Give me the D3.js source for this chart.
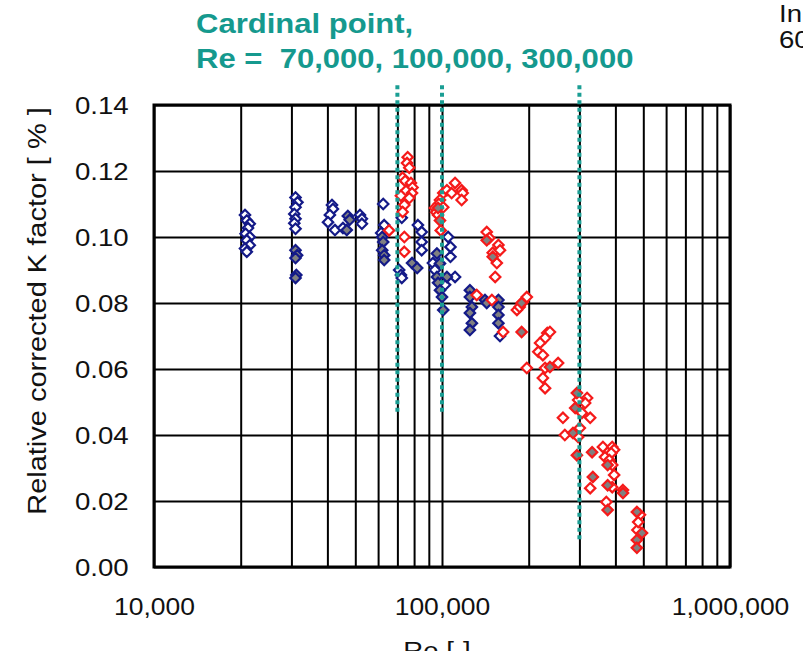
<!DOCTYPE html>
<html>
<head>
<meta charset="utf-8">
<script src="https://cdn.jsdelivr.net/npm/d3@7"></script>
<style>
  html, body { margin: 0; padding: 0; background: #fff; }
  svg { display: block; font-family: "Liberation Sans", Arial, sans-serif; }
</style>
</head>
<body>
<svg id="chart" width="803" height="651"></svg>
<script>
// ---- data: [Re, relative corrected K factor (%)] ----
const blueOpen = [
  [20700,0.1067],[21000,0.1050],[21500,0.1040],[21200,0.1027],[20800,0.1010],
  [21500,0.1000],[21000,0.0990],[21500,0.0975],[20700,0.0965],[21000,0.0955],
  [31000,0.1120],[31500,0.1105],[31000,0.1090],[30700,0.1070],[31000,0.1055],
  [30700,0.1042],[31000,0.1025],
  [41500,0.1097],[41800,0.1085],[40800,0.1067],[40200,0.1045],[42500,0.1021],[45300,0.1027],
  [51900,0.1067],[52700,0.1055],[52700,0.1040],
  [62500,0.1100],[63000,0.1036],[61500,0.1012],
  [72500,0.1058],[71000,0.0900],[72000,0.0885],[72500,0.0876],
  [82500,0.1036],[85000,0.1015],[85000,0.0985],[85000,0.0960],
  [105000,0.1000],[107000,0.0970],[107000,0.0940],[93000,0.0921],[94500,0.0900],
  [111000,0.0879],[102500,0.0855],[159000,0.0700]
];
const blueFilled = [
  [31000,0.0960],[31400,0.0945],[31000,0.0936],[31200,0.0885],[31000,0.0876],
  [47100,0.1064],[47800,0.1052],[46700,0.1021],
  [62000,0.1000],[62500,0.0985],[62000,0.0960],[63000,0.0945],[63000,0.0930],
  [78700,0.0921],[82000,0.0906],
  [96000,0.0879],[96900,0.0861],[98400,0.0839],[100000,0.0818],[101000,0.0779],
  [104000,0.0879],[96000,0.0950],[98400,0.0920],
  [125000,0.0839],[125000,0.0818],[127000,0.0788],[125000,0.0770],[127000,0.0739],[125000,0.0718],
  [141000,0.0809],[143000,0.0800],
  [157000,0.0809],[157000,0.0788],[157000,0.0764],[157000,0.0739]
];
const redOpen = [
  [76000,0.1242],[75600,0.1224],[77000,0.1210],[73000,0.1180],[74500,0.1170],[78000,0.1164],
  [79000,0.1150],[75000,0.1140],[78700,0.1133],[72000,0.1125],[77000,0.1118],[74000,0.1097],
  [73000,0.1076],[65500,0.1020],[74000,0.1000],[74000,0.0955],
  [101000,0.1133],[104000,0.1142],[98400,0.1112],[97500,0.1100],[101000,0.1090],[94500,0.1088],
  [95500,0.1075],[99000,0.1020],[111000,0.1164],
  [117000,0.1142],[118000,0.1133],[108000,0.1133],[117000,0.1112],[96900,0.1067],
  [143000,0.1015],[146000,0.0997],[150000,0.0952],[155000,0.0921],[153000,0.0879],
  [157000,0.0976],[159000,0.0960],
  [132000,0.0824],[149000,0.0809],[163000,0.0712],
  [182000,0.0779],[186000,0.0788],[191000,0.0803],[197000,0.0818],
  [232000,0.0709],[237000,0.0712],[228000,0.0694],[219000,0.0679],[216000,0.0652],
  [224000,0.0642],[197000,0.0603],[228000,0.0603],[253000,0.0618],[224000,0.0573],[228000,0.0542],
  [263000,0.0452],[267000,0.0400],[297000,0.0394],[301000,0.0421],[319000,0.0512],
  [314000,0.0497],[306000,0.0467],[327000,0.0452],[297000,0.0506],[327000,0.0239],
  [362000,0.0364],[390000,0.0364],[396000,0.0355],[387000,0.0345],[368000,0.0333],
  [381000,0.0324],[390000,0.0309],[396000,0.0279],[390000,0.0242],[372000,0.0197],[425000,0.0233],
  [487000,0.0158],[477000,0.0112],[480000,0.0136]
];
const redFilled = [
  [96900,0.1088],[98400,0.1050],
  [143000,0.0990],[150000,0.0940],
  [189000,0.0800],[189000,0.0712],
  [237000,0.0606],
  [294000,0.0527],[290000,0.0482],[285000,0.0406],[294000,0.0339],
  [332000,0.0348],[334000,0.0273],
  [376000,0.0309],[376000,0.0248],[376000,0.0173],[425000,0.0224],
  [475000,0.0167],[495000,0.0103],[475000,0.0082],[475000,0.0058]
];

// cardinal Reynolds numbers and the K range each marker line spans
const cardinalRe = [70000, 100000, 300000];
const cardinalLow = [0.047, 0.047, 0.008];
const cardinalTop = 0.146;

const yTicks = [0, 0.02, 0.04, 0.06, 0.08, 0.10, 0.12, 0.14];
const xLabelTicks = [1e4, 1e5, 1e6];

// ---- layout ----
const svg = d3.select("#chart");
const plotL = 154, plotR = 730, plotT = 105, plotB = 567;
const teal = "#15998e";
const blue = "#141a88", red = "#f51a1a", grayFill = "#808080";
const stretch = "scale(1.15,1)";

svg.append("rect").attr("width", 803).attr("height", 651).attr("fill", "#fff");

const x = d3.scaleLog().domain([1e4, 1e6]).range([plotL, plotR]);
const y = d3.scaleLinear().domain([0, 0.14]).range([plotB, plotT]);

// grid lines
const gx = svg.append("g")
  .attr("transform", `translate(0,${plotB})`)
  .call(d3.axisBottom(x).tickValues(x.ticks()).tickSize(-(plotB - plotT)).tickFormat(""));
gx.select(".domain").remove();
gx.selectAll("line").attr("stroke", "#000").attr("stroke-width", 2);

const gy = svg.append("g")
  .attr("transform", `translate(${plotL},0)`)
  .call(d3.axisLeft(y).tickValues(yTicks).tickSize(-(plotR - plotL)).tickFormat(""));
gy.select(".domain").remove();
gy.selectAll("line").attr("stroke", "#000").attr("stroke-width", 2);

// plot frame
svg.append("rect")
  .attr("x", plotL).attr("y", plotT)
  .attr("width", plotR - plotL).attr("height", plotB - plotT)
  .attr("fill", "none").attr("stroke", "#000").attr("stroke-width", 3);

// diamond markers
const diamond = {
  draw(ctx, size) {
    const r = Math.sqrt(size / 2);
    ctx.moveTo(0, -r); ctx.lineTo(r, 0); ctx.lineTo(0, r); ctx.lineTo(-r, 0); ctx.closePath();
  }
};
const sym = d3.symbol().type(diamond).size(54);

function drawSeries(data, stroke, fill) {
  svg.append("g").selectAll("path").data(data).join("path")
    .attr("d", sym)
    .attr("transform", d => `translate(${x(d[0])},${y(d[1])})`)
    .attr("fill", fill)
    .attr("stroke", stroke)
    .attr("stroke-width", 2.2);
}
drawSeries(blueOpen, blue, "#fff");
drawSeries(blueFilled, blue, grayFill);
drawSeries(redOpen, red, "#fff");
drawSeries(redFilled, red, grayFill);

// cardinal point marker lines
svg.append("g").selectAll("line").data(cardinalRe).join("line")
  .attr("x1", d => x(d)).attr("x2", d => x(d))
  .attr("y1", y(cardinalTop))
  .attr("y2", (d, i) => y(cardinalLow[i]))
  .attr("stroke", "#1b9e94")
  .attr("stroke-width", 4)
  .attr("stroke-dasharray", "4,3.5");

// axis labels
const lx = svg.append("g")
  .attr("transform", `translate(0,${plotB})`)
  .call(d3.axisBottom(x).tickValues(xLabelTicks).tickSize(0).tickPadding(32).tickFormat(d3.format(",")));
lx.select(".domain").remove();
lx.selectAll("text")
  .attr("font-size", 23).attr("font-family", "Liberation Sans, Arial, sans-serif")
  .attr("fill", "#111").attr("transform", stretch);

const ly = svg.append("g")
  .attr("transform", `translate(${plotL},0)`)
  .call(d3.axisLeft(y).tickValues(yTicks).tickSize(0).tickPadding(22).tickFormat(d3.format(".2f")));
ly.select(".domain").remove();
ly.selectAll("text")
  .attr("font-size", 24).attr("font-family", "Liberation Sans, Arial, sans-serif")
  .attr("fill", "#111").attr("dy", "0.36em").attr("transform", stretch);

// axis titles
svg.append("text")
  .attr("transform", `translate(46,311) rotate(-90) scale(1.16,1)`)
  .attr("text-anchor", "middle")
  .attr("font-size", 25).attr("fill", "#111")
  .text("Relative corrected K factor [ % ]");

svg.append("text")
  .attr("transform", `translate(437,659) ${stretch}`)
  .attr("text-anchor", "middle")
  .attr("font-size", 24).attr("fill", "#111")
  .text("Re [-]");

// heading
const heading = ["Cardinal point,", "Re =  70,000, 100,000, 300,000"];
svg.append("g").selectAll("text").data(heading).join("text")
  .attr("transform", (d, i) => `translate(196,${33 + i * 35}) ${stretch}`)
  .style("white-space", "pre")
  .attr("font-size", 27).attr("font-weight", "bold").attr("fill", teal)
  .text(d => d);

// side note running past the right edge
const sideNote = ["In", "60"];
svg.append("g").selectAll("text").data(sideNote).join("text")
  .attr("transform", (d, i) => `translate(779,${22 + i * 26}) ${stretch}`)
  .attr("font-size", 24).attr("fill", "#111")
  .text(d => d);
</script>
</body>
</html>
